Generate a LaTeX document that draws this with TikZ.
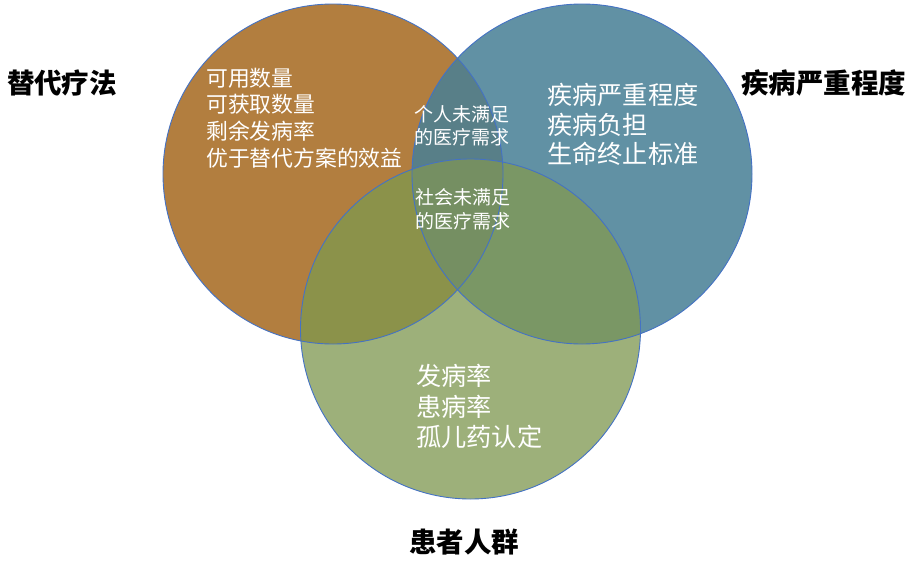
\documentclass[tikz,border=0pt]{standalone}
\usepackage{fontspec}
\newfontfamily\cjk{Noto Sans CJK SC}
\definecolor{corange}{RGB}{178,126,63}
\definecolor{cblue}{RGB}{97,145,164}
\definecolor{cgreen}{RGB}{157,176,122}
\definecolor{cob}{RGB}{88,127,136}
\definecolor{cog}{RGB}{139,146,74}
\definecolor{cbg}{RGB}{122,151,101}
\definecolor{cobg}{RGB}{117,143,98}
\definecolor{cline}{RGB}{68,114,196}
\tikzset{
  outline/.style={draw=cline, line width=0.9pt},
  intext/.style={text=white, inner sep=0pt, anchor=west, align=left},
  biglabel/.style={text=black, inner sep=0pt, anchor=center, font=\cjk\bfseries\fontsize{27.5}{30}\selectfont}
}
\begin{document}
\begin{tikzpicture}[x=1pt,y=-1pt]
\useasboundingbox (0,0) rectangle (911,562);
\def\rad{170pt}
\coordinate (O) at (333,174);
\coordinate (B) at (582,174);
\coordinate (G) at (470.5,329);
\fill[corange] (O) circle[radius=\rad];
\fill[cblue] (B) circle[radius=\rad];
\fill[cgreen] (G) circle[radius=\rad];
\begin{scope}\clip (O) circle[radius=\rad]; \fill[cob] (B) circle[radius=\rad]; \end{scope}
\begin{scope}\clip (O) circle[radius=\rad]; \fill[cog] (G) circle[radius=\rad]; \end{scope}
\begin{scope}\clip (B) circle[radius=\rad]; \fill[cbg] (G) circle[radius=\rad]; \end{scope}
\begin{scope}\clip (O) circle[radius=\rad]; \clip (B) circle[radius=\rad]; \fill[cobg] (G) circle[radius=\rad]; \end{scope}
\draw[outline] (O) circle[radius=\rad];
\draw[outline] (B) circle[radius=\rad];
\draw[outline] (G) circle[radius=\rad];

\node[intext, font=\cjk\fontsize{21.8}{26.7}\selectfont] (otext) at (206,118)
  {可用数量\\可获取数量\\剩余发病率\\优于替代方案的效益};
\node[intext, font=\cjk\fontsize{25.2}{29.5}\selectfont] (btext) at (547,124.5)
  {疾病严重程度\\疾病负担\\生命终止标准};
\node[intext, font=\cjk\fontsize{25.2}{30.5}\selectfont] (gtext) at (416,406.5)
  {发病率\\患病率\\孤儿药认定};
\node[intext, font=\cjk\fontsize{19}{22.5}\selectfont] (obtext) at (414,126)
  {个人未满足\\的医疗需求};
\node[intext, font=\cjk\fontsize{19}{23.5}\selectfont] (obgtext) at (415,209.5)
  {社会未满足\\的医疗需求};

\node[biglabel] (lo) at (62,82.5) {替代疗法};
\node[biglabel] (lb) at (823.5,83) {疾病严重程度};
\node[biglabel] (lg) at (464,542) {患者人群};
\end{tikzpicture}
\end{document}
